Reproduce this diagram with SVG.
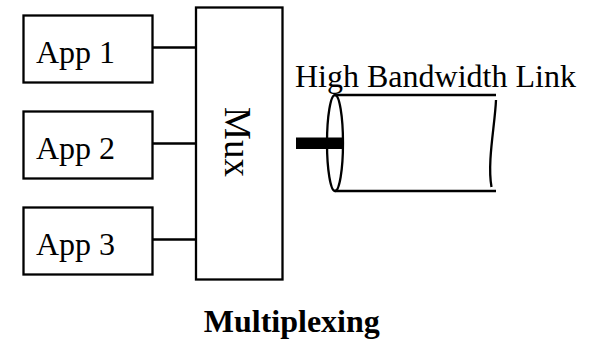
<svg xmlns="http://www.w3.org/2000/svg" width="589" height="341" viewBox="0 0 589 341">
<style>
.box{fill:#fff;stroke:#000;stroke-width:2.3}
.ln{fill:none;stroke:#000;stroke-width:2.3}
.t{font-family:"Liberation Serif","Times New Roman",serif;font-size:32px;fill:#000}
</style>
<rect width="589" height="341" fill="#fff"/>
<g id="connectors">
<line class="ln" x1="152" y1="47.5" x2="199.5" y2="47.5"/>
<line class="ln" x1="152" y1="143.5" x2="199.5" y2="143.5"/>
<line class="ln" x1="152" y1="239.5" x2="199.5" y2="239.5"/>
</g>
<g id="app1">
<rect class="box" x="23.5" y="15.5" width="129" height="67"/>
<text class="t" x="36" y="63.3">App 1</text>
</g>
<g id="app2">
<rect class="box" x="23.5" y="111.5" width="129" height="67"/>
<text class="t" x="36" y="158.8">App 2</text>
</g>
<g id="app3">
<rect class="box" x="23.5" y="207.5" width="129" height="67"/>
<text class="t" x="36" y="254.5">App 3</text>
</g>
<g id="mux">
<rect class="box" x="196" y="7.5" width="86.5" height="272"/>
<text class="t" style="font-size:37px" text-anchor="middle" transform="translate(225,142) rotate(90)">Mux</text>
</g>
<g id="link">
<text class="t" x="295" y="86.7">High Bandwidth Link</text>
<line class="ln" x1="335" y1="95" x2="496" y2="95"/>
<line class="ln" x1="335" y1="191" x2="496" y2="191"/>
<path class="ln" d="M496,100 C495,125 487,162 491.5,187"/>
<ellipse class="ln" cx="335" cy="143" rx="8" ry="48"/>
<rect x="296" y="137.5" width="47.5" height="11.5" fill="#000"/>
</g>
<text class="t" x="291.8" y="332" text-anchor="middle" font-weight="bold">Multiplexing</text>
</svg>
